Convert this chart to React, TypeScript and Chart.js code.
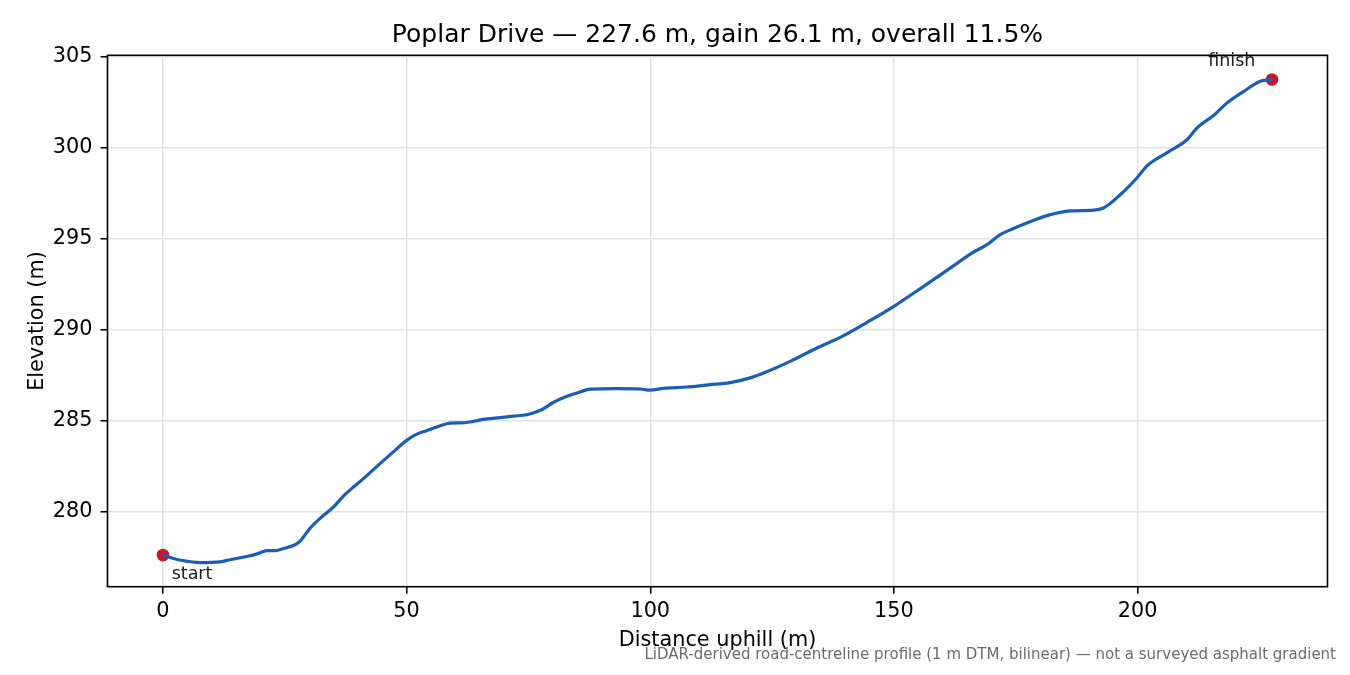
import { useEffect, useRef } from 'react';
import Chart from 'chart.js/auto';

// distance along the road (m) and elevation (m)
const distM = [
  0, 2, 4, 7.6, 11.7, 14, 17.2, 19.5, 21.3, 23, 25, 27.1, 28.1, 30.2, 32.5, 35,
  37, 39.1, 41.5, 43.9, 47, 50, 52, 54.1, 56.5, 58.9, 61, 63, 66.4, 69.2, 72,
  74.7, 77.7, 80.1, 82.9, 85.5, 87.7, 93.1, 98, 100, 102.7, 107.5, 112, 116.4,
  120.5, 123.9, 128.7, 134.2, 139.7, 144.5, 150, 156.1, 161.6, 166, 169.1,
  171.8, 174.5, 177.3, 181.4, 186.2, 191, 193, 196.5, 199.9, 201.9, 206, 210.2,
  212.2, 215.6, 218.4, 221.8, 225.2, 227.6,
];
const elevM = [
  277.62, 277.45, 277.32, 277.21, 277.25, 277.38, 277.54, 277.7, 277.87, 277.86,
  278.0, 278.19, 278.37, 279.1, 279.7, 280.26, 280.85, 281.36, 281.9, 282.49,
  283.22, 283.92, 284.25, 284.45, 284.68, 284.87, 284.88, 284.93, 285.1, 285.17,
  285.25, 285.33, 285.6, 286.0, 286.34, 286.57, 286.73, 286.76, 286.74, 286.68,
  286.78, 286.85, 286.97, 287.09, 287.35, 287.69, 288.26, 288.99, 289.67, 290.4,
  291.28, 292.38, 293.39, 294.2, 294.67, 295.22, 295.55, 295.86, 296.26, 296.52,
  296.56, 296.68, 297.42, 298.34, 298.98, 299.71, 300.44, 301.08, 301.76, 302.46,
  303.09, 303.64, 303.74,
];
const xTicks = [0, 50, 100, 150, 200];
const yTicks = [280, 285, 290, 295, 300, 305];

const titleText = 'Poplar Drive — 227.6 m, gain 26.1 m, overall 11.5%';
const footnote =
  'LiDAR-derived road-centreline profile (1 m DTM, bilinear) — not a surveyed asphalt gradient';
const FONT = '"DejaVu Sans", sans-serif';

// matplotlib-style 5% margins
const xSpan = distM[distM.length - 1] - distM[0];
const ySpan = Math.max(...elevM) - Math.min(...elevM);
const xMin = distM[0] - 0.05 * xSpan;
const xMax = distM[distM.length - 1] + 0.05 * xSpan;
const yMin = Math.min(...elevM) - 0.05 * ySpan;
const yMax = Math.max(...elevM) + 0.05 * ySpan;

const framePlugin = {
  id: 'frame',
  afterDraw(chart: any) {
    const { ctx, chartArea: a, scales } = chart;
    ctx.save();
    ctx.strokeStyle = '#000';
    ctx.lineWidth = 1.6;
    ctx.strokeRect(a.left, a.top, a.right - a.left, a.bottom - a.top);

    // title centred over the axes, like matplotlib
    ctx.font = `25px ${FONT}`;
    ctx.fillStyle = '#000';
    ctx.textAlign = 'center';
    ctx.textBaseline = 'alphabetic';
    ctx.fillText(titleText, (a.left + a.right) / 2, 41.7);

    const last = distM.length - 1;
    const x0 = scales.x.getPixelForValue(distM[0]);
    const y0 = scales.y.getPixelForValue(elevM[0]);
    const x1 = scales.x.getPixelForValue(distM[last]);
    const y1 = scales.y.getPixelForValue(elevM[last]);
    ctx.font = `17.5px ${FONT}`;
    ctx.fillStyle = '#1a1a1a';
    ctx.textAlign = 'left';
    ctx.fillText('start', x0 + 8.7, y0 + 24);
    ctx.textAlign = 'right';
    ctx.fillText('finish', x1 - 16.7, y1 - 13.3);

    ctx.font = `15px ${FONT}`;
    ctx.fillStyle = '#6b6b6b';
    ctx.fillText(footnote, 1336, 659.3);
    ctx.restore();
  },
};

export default function App() {
  const canvasRef = useRef<HTMLCanvasElement | null>(null);

  useEffect(() => {
    document.body.style.margin = '0';
    if (!canvasRef.current) return;
    const grid = {
      color: '#e3e3e3',
      lineWidth: 1.5,
      tickColor: '#000',
      tickLength: 7,
      tickWidth: 1.6,
    };
    const tickFont = { family: FONT, size: 20.8 };
    const chart = new Chart(canvasRef.current, {
      type: 'line',
      data: {
        datasets: [
          {
            data: distM.map((d, i) => ({ x: d, y: elevM[i] })),
            borderColor: '#1b5eb5',
            borderWidth: 3.2,
            pointRadius: 0,
            cubicInterpolationMode: 'monotone',
            fill: false,
          },
          {
            data: [
              { x: distM[0], y: elevM[0] },
              { x: distM[distM.length - 1], y: elevM[elevM.length - 1] },
            ],
            showLine: false,
            pointRadius: 6.3,
            pointBackgroundColor: '#c1192b',
            pointBorderWidth: 0,
          },
        ],
      },
      options: {
        animation: false,
        responsive: false,
        layout: { padding: { left: 0, right: 22.5, top: 55.3, bottom: 0 } },
        plugins: {
          legend: { display: false },
          tooltip: { enabled: false },
          title: { display: false },
        },
        scales: {
          x: {
            type: 'linear',
            min: xMin,
            max: xMax,
            afterBuildTicks: (s: any) => {
              s.ticks = xTicks.map((v) => ({ value: v }));
            },
            afterFit: (s: any) => {
              s.height = 88.3;
            },
            ticks: {
              color: '#000',
              font: tickFont,
              padding: 5.5,
              maxRotation: 0,
              autoSkip: false,
            },
            grid,
            border: { display: false },
            title: {
              display: true,
              text: 'Distance uphill (m)',
              color: '#000',
              font: tickFont,
              padding: { top: 0, bottom: 22 },
            },
          },
          y: {
            type: 'linear',
            min: yMin,
            max: yMax,
            afterBuildTicks: (s: any) => {
              s.ticks = yTicks.map((v) => ({ value: v }));
            },
            afterFit: (s: any) => {
              s.width = 107.5;
            },
            ticks: {
              color: '#000',
              font: tickFont,
              padding: 8,
              autoSkip: false,
            },
            grid,
            border: { display: false },
            title: {
              display: true,
              text: 'Elevation (m)',
              color: '#000',
              font: tickFont,
              padding: { top: 25.6, bottom: 0 },
            },
          },
        },
      },
      plugins: [framePlugin],
    });
    return () => chart.destroy();
  }, []);

  return (
    <div style={{ width: 1350, height: 675 }}>
      <canvas ref={canvasRef} width={1350} height={675} style={{ display: 'block' }} />
    </div>
  );
}
